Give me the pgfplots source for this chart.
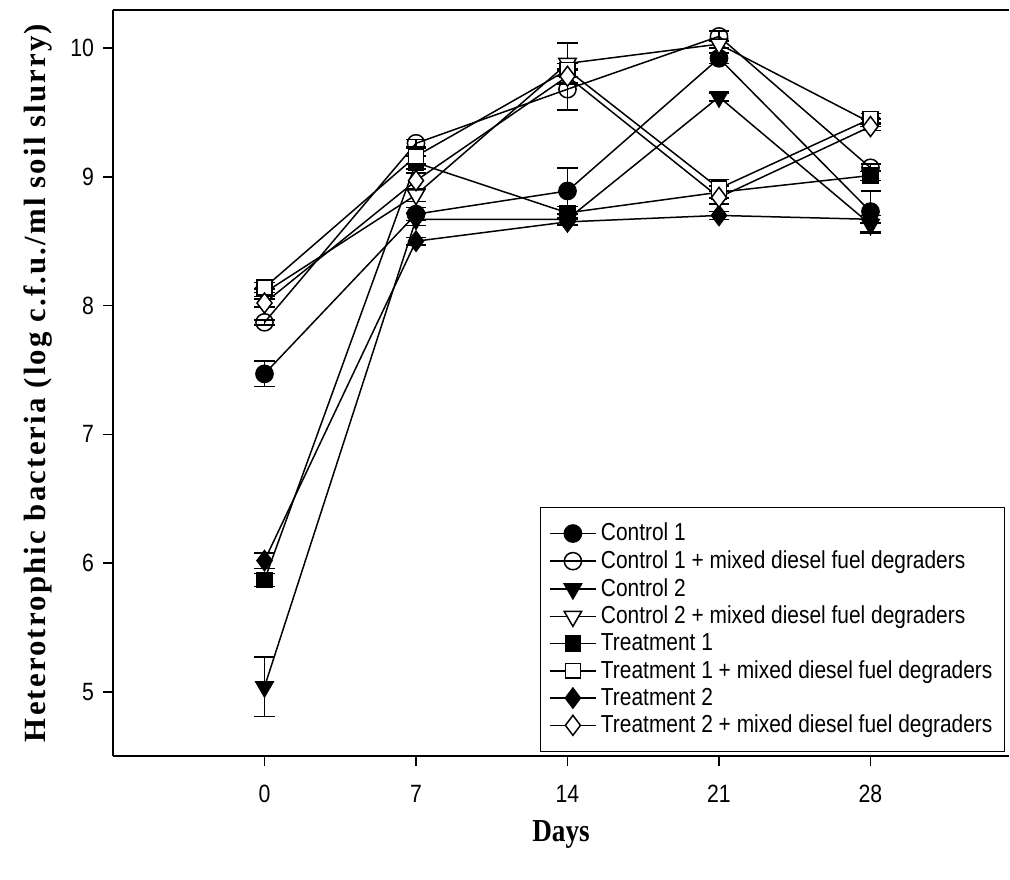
\documentclass[border=0pt]{standalone}
\usepackage{fontspec}
\setmainfont{Liberation Sans}
\newfontfamily\narrow[FakeStretch=0.85]{Liberation Sans}
\newfontfamily\spacedserif[LetterSpace=7]{Liberation Serif}
\newfontfamily\narrowserif[FakeStretch=0.85]{Liberation Serif}
\usepackage{pgfplots}
\pgfplotsset{compat=1.18}
\begin{document}
\begin{tikzpicture}
\useasboundingbox (-56.5pt,-61.5pt) rectangle (448.5pt,378pt);
\begin{axis}[
  at={(0,0)}, anchor=south west,
  scale only axis, width=448pt, height=373pt,
  xmin=-7, xmax=34.4, ymin=4.503, ymax=10.295,
  axis x line*=box, axis y line*=left,
  axis line style={line width=1pt},
  xtick={0,7,14,21,28}, ytick={5,6,7,8,9,10},
  xtick pos=bottom, ytick pos=left,
  tick align=outside, major tick length=5pt,
  tick style={line width=0.8pt, black},
  /pgf/number format/assume math mode=true,
  ticklabel style={font=\narrow\fontsize{12.5}{13}\selectfont},
  yticklabel style={xshift=-1pt},
  xticklabel style={yshift=-6pt},
  xlabel={\narrowserif\bfseries\fontsize{16}{17}\selectfont Days},
  ylabel={\spacedserif\bfseries\fontsize{15.4}{17}\selectfont Heterotrophic bacteria (log c.f.u./ml soil slurry)},
  xlabel style={yshift=-2pt},
  ylabel style={yshift=2pt},
  legend style={at={(0.9955,0.005)}, anchor=south east, draw=black, line width=0.5pt,
    font=\narrow\fontsize{12.3}{13}\selectfont, legend cell align=left,
    row sep=-0.6pt, inner xsep=4pt, inner ysep=6pt},
  legend image code/.code={\draw[mark repeat=2,mark phase=2,#1] plot coordinates {(0cm,0cm) (0.41cm,0cm) (0.82cm,0cm)};},
  every axis plot/.append style={black, line width=0.75pt,
    /pgfplots/error bars/y dir=both, /pgfplots/error bars/y explicit,
    /pgfplots/error bars/error mark=|,
    /pgfplots/error bars/error bar style={line width=0.75pt, black},
    /pgfplots/error bars/error mark options={black, mark size=5pt, line width=0.75pt, solid}},
]
% Control 1
\addplot[mark=*, mark size=4.3pt, mark options={fill=black, solid}] coordinates {(0,7.47) +- (0,0.10) (7,8.71) +- (0,0.05) (14,8.89) +- (0,0.18) (21,9.92) +- (0,0.04) (28,8.73) +- (0,0.16)};
\addlegendentry{Control 1}
% Control 1 + mixed
\addplot[mark=o, mark size=4.3pt, mark options={fill=white, solid}] coordinates {(0,7.87) +- (0,0.02) (7,9.26) +- (0,0.03) (14,9.68) +- (0,0.16) (21,10.09) +- (0,0.04) (28,9.07) +- (0,0.03)};
\addlegendentry{Control 1 + mixed diesel fuel degraders}
% Control 2
\addplot[mark=triangle*, mark size=5pt, mark options={fill=black, rotate=180, solid}] coordinates {(0,5.04) +- (0,0.23) (7,8.67) +- (0,0.05) (14,8.67) +- (0,0.04) (21,9.62) +- (0,0.03) (28,8.63) +- (0,0.07)};
\addlegendentry{Control 2}
% Control 2 + mixed
\addplot[mark=triangle*, mark size=5pt, mark options={fill=white, rotate=180, solid}] coordinates {(0,8.10) +- (0,0.03) (7,8.86) +- (0,0.05) (14,9.88) +- (0,0.16) (21,10.03) +- (0,0.03) (28,9.42) +- (0,0.03)};
\addlegendentry{Control 2 + mixed diesel fuel degraders}
% Treatment 1
\addplot[mark=square*, mark size=3.7pt, mark options={fill=black, solid}] coordinates {(0,5.87) +- (0,0.05) (7,9.11) +- (0,0.05) (14,8.72) +- (0,0.05) (21,8.88) +- (0,0.05) (28,9.01) +- (0,0.04)};
\addlegendentry{Treatment 1}
% Treatment 1 + mixed
\addplot[mark=square*, mark size=3.7pt, mark options={fill=white, solid}] coordinates {(0,8.14) +- (0,0.04) (7,9.16) +- (0,0.06) (14,9.83) +- (0,0.05) (21,8.91) +- (0,0.07) (28,9.45) +- (0,0.04)};
\addlegendentry{Treatment 1 + mixed diesel fuel degraders}
% Treatment 2
\addplot[mark=diamond*, mark size=5pt, mark options={fill=black, solid}] coordinates {(0,6.02) +- (0,0.06) (7,8.50) +- (0,0.03) (14,8.65) +- (0,0.03) (21,8.70) +- (0,0.03) (28,8.67) +- (0,0.03)};
\addlegendentry{Treatment 2}
% Treatment 2 + mixed
\addplot[mark=diamond*, mark size=5pt, mark options={fill=white, solid}] coordinates {(0,8.02) +- (0,0.03) (7,8.97) +- (0,0.06) (14,9.78) +- (0,0.05) (21,8.84) +- (0,0.05) (28,9.39) +- (0,0.03)};
\addlegendentry{Treatment 2 + mixed diesel fuel degraders}
\end{axis}
\end{tikzpicture}
\end{document}
